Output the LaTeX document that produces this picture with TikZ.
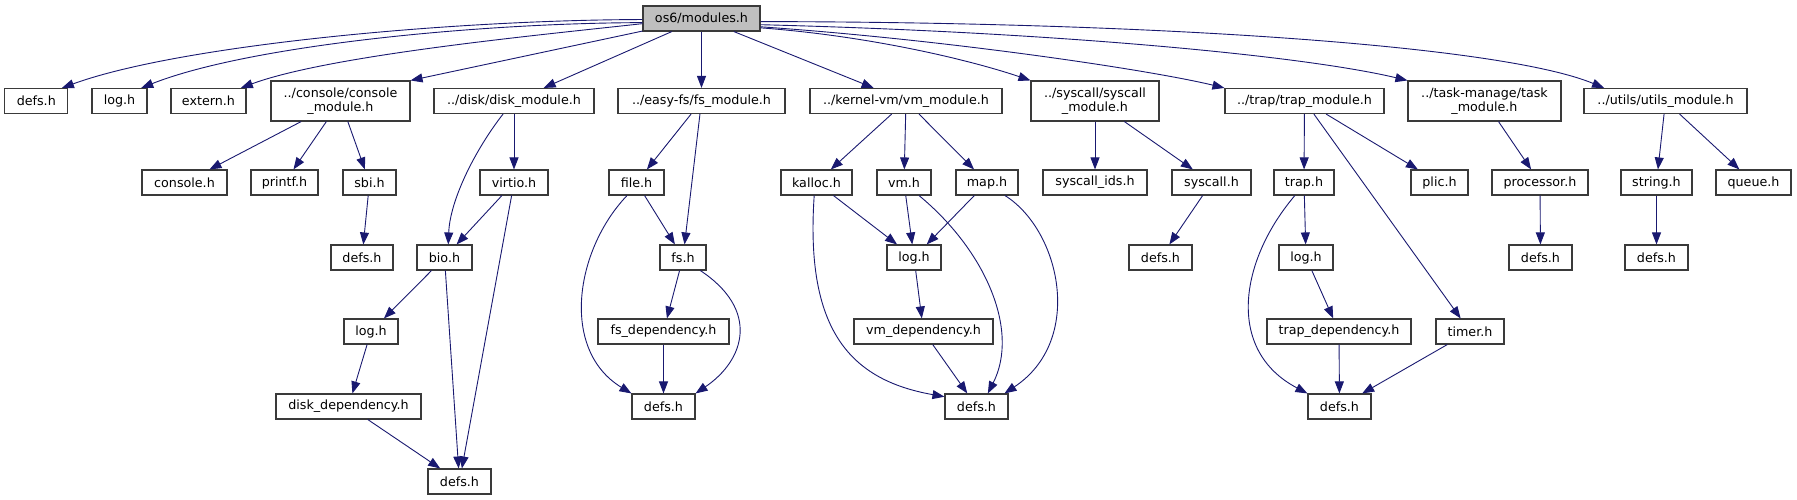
\documentclass[tikz,border=0pt]{standalone}
\usepackage{fontspec}
\setmainfont{DejaVu Sans}
\usepackage{tikz}
\usetikzlibrary{arrows.meta}

\definecolor{edgeblue}{HTML}{191970}
\definecolor{boxline}{HTML}{3A3A3A}
\definecolor{rootfill}{HTML}{BFBFBF}

\begin{document}
\begin{tikzpicture}[x=1pt, y=-1pt,
    file/.style={draw=boxline, line width=1.1pt, fill=white, inner sep=0pt,
      minimum height=25pt, align=center, font=\fontsize{12.7}{13.5}\selectfont},
    twoline/.style={file, minimum height=40pt},
    edge/.style={draw=edgeblue, line width=0.9pt, -{Triangle[length=12pt,width=9pt]}}]
    \useasboundingbox (0,0) rectangle (1797,500);

    % top row
    \node[file, fill=rootfill, minimum width=117pt] (root) at (701.5,18.5) {os6/modules.h};
    \node[file, minimum width=63pt]  (defsA)   at (36.3,101)  {defs.h};
    \node[file, minimum width=55pt]  (logA)    at (119.5,101) {log.h};
    \node[file, minimum width=75pt]  (externh) at (208.5,101) {extern.h};
    \node[twoline, minimum width=139pt] (conmod) at (340.5,101) {../console/console\\\_module.h};
    \node[file, minimum width=160pt] (diskmod) at (514,101)   {../disk/disk\_module.h};
    \node[file, minimum width=167pt] (fsmod)   at (701.5,101) {../easy-fs/fs\_module.h};
    \node[file, minimum width=192pt] (vmmod)   at (906,101)   {../kernel-vm/vm\_module.h};
    \node[twoline, minimum width=128pt] (sysmod) at (1095,101) {../syscall/syscall\\\_module.h};
    \node[file, minimum width=159pt] (trapmod) at (1304.5,101) {../trap/trap\_module.h};
    \node[twoline, minimum width=153pt] (taskmod) at (1484.5,101) {../task-manage/task\\\_module.h};
    \node[file, minimum width=163pt] (utilsmod) at (1665.5,101) {../utils/utils\_module.h};

    % second row
    \node[file, minimum width=85pt]  (conh)    at (184.5,182.5) {console.h};
    \node[file, minimum width=67pt]  (printfh) at (284.5,182.5) {printf.h};
    \node[file, minimum width=53pt]  (sbih)    at (369.5,182.5) {sbi.h};
    \node[file, minimum width=68pt]  (virtioh) at (514,182.5)   {virtio.h};
    \node[file, minimum width=55pt]  (fileh)   at (636.5,182.5) {file.h};
    \node[file, minimum width=71pt]  (kalloch) at (816.5,182.5) {kalloc.h};
    \node[file, minimum width=54pt]  (vmh)     at (904,182.5)   {vm.h};
    \node[file, minimum width=62pt]  (maph)    at (987,182.5)   {map.h};
    \node[file, minimum width=104pt] (sysids)  at (1095,182.5)  {syscall\_ids.h};
    \node[file, minimum width=79pt]  (syscallh) at (1211.5,182.5) {syscall.h};
    \node[file, minimum width=60pt]  (traph)   at (1304,182.5)  {trap.h};
    \node[file, minimum width=57pt]  (plich)   at (1439.5,182.5) {plic.h};
    \node[file, minimum width=96pt]  (proch)   at (1540,182.5)  {processor.h};
    \node[file, minimum width=71pt]  (stringh) at (1656.5,182.5) {string.h};
    \node[file, minimum width=75pt]  (queueh)  at (1753.5,182.5) {queue.h};

    % third row
    \node[file, minimum width=62pt]  (defsB)   at (362,257.5)   {defs.h};
    \node[file, minimum width=55pt]  (bioh)    at (444.5,257.5) {bio.h};
    \node[file, minimum width=46pt]  (fsh)     at (683,257.5)   {fs.h};
    \node[file, minimum width=54pt]  (logB)    at (914,257.5)   {log.h};
    \node[file, minimum width=63pt]  (defsC)   at (1160.5,257.5) {defs.h};
    \node[file, minimum width=54pt]  (logC)    at (1306,257.5)  {log.h};
    \node[file, minimum width=63pt]  (defsD)   at (1540.5,257.5) {defs.h};
    \node[file, minimum width=63pt]  (defsE)   at (1656.5,257.5) {defs.h};

    % fourth row
    \node[file, minimum width=54pt]  (logD)    at (371,331.5)   {log.h};
    \node[file, minimum width=131pt] (fsdep)   at (663.5,331.5) {fs\_dependency.h};
    \node[file, minimum width=139pt] (vmdep)   at (923.5,331.5) {vm\_dependency.h};
    \node[file, minimum width=144pt] (trapdep) at (1339,331.5)  {trap\_dependency.h};
    \node[file, minimum width=68pt]  (timerh)  at (1470,331.5)  {timer.h};

    % fifth and sixth row
    \node[file, minimum width=145pt] (diskdep) at (348.5,406.5) {disk\_dependency.h};
    \node[file, minimum width=63pt]  (defsF)   at (663.5,406.5) {defs.h};
    \node[file, minimum width=63pt]  (defsG)   at (976.5,406.5) {defs.h};
    \node[file, minimum width=63pt]  (defsH)   at (1339.5,406.5) {defs.h};
    \node[file, minimum width=63pt]  (defsI)   at (459.5,481.5) {defs.h};

    % edges from the root
    \draw[edge] (root.181) .. controls (450,20) and (180,45) .. (defsA.27);
    \draw[edge] (root.184) .. controls (480,23) and (250,45) .. (logA.31);
    \draw[edge] (root.185) .. controls (540,35) and (330,55) .. (externh.22);
    \draw[edge] (root) -- (conmod.north east);
    \draw[edge] (root) -- (diskmod);
    \draw[edge] (root) -- (fsmod);
    \draw[edge] (root) -- (vmmod);
    \draw[edge] (root.-9) .. controls (870,36) and (970,60) .. (sysmod.north west);
    \draw[edge] (root.-8) .. controls (950,40) and (1150,70) .. (trapmod.north west);
    \draw[edge] (root.-6) .. controls (1050,32) and (1300,55) .. (taskmod.north west);
    \draw[edge] (root.-3) .. controls (1150,22) and (1500,45) .. (utilsmod.168);

    % console
    \draw[edge] (conmod) -- (conh);
    \draw[edge] (conmod) -- (printfh);
    \draw[edge] (conmod) -- (sbih);
    \draw[edge] (sbih) -- (defsB);

    % disk
    \draw[edge] (diskmod.-130) .. controls (475,150) and (450,200) .. (bioh.74);
    \draw[edge] (diskmod) -- (virtioh);
    \draw[edge] (virtioh) -- (bioh);
    \draw[edge] (virtioh) -- (defsI);
    \draw[edge] (bioh) -- (logD);
    \draw[edge] (bioh) -- (defsI);
    \draw[edge] (logD) -- (diskdep);
    \draw[edge] (diskdep) -- (defsI);

    % easy-fs
    \draw[edge] (fsmod) -- (fileh);
    \draw[edge] (fsmod) -- (fsh);
    \draw[edge] (fileh) -- (fsh);
    \draw[edge] (fileh.-126) .. controls (575,250) and (560,350) .. (defsF.north west);
    \draw[edge] (fsh) -- (fsdep);
    \draw[edge] (fsh.-37) .. controls (760,310) and (745,360) .. (defsF.north east);
    \draw[edge] (fsdep) -- (defsF);

    % kernel-vm
    \draw[edge] (vmmod) -- (kalloch);
    \draw[edge] (vmmod) -- (vmh);
    \draw[edge] (vmmod) -- (maph);
    \draw[edge] (kalloch) -- (logB);
    \draw[edge] (kalloch.-100) .. controls (805,330) and (850,380) .. (defsG.163);
    \draw[edge] (vmh) -- (logB);
    \draw[edge] (vmh.-41) .. controls (985,250) and (1020,330) .. (defsG.49);
    \draw[edge] (maph) -- (logB);
    \draw[edge] (maph.-36) .. controls (1060,230) and (1085,340) .. (defsG.25);
    \draw[edge] (logB) -- (vmdep);
    \draw[edge] (vmdep) -- (defsG);

    % syscall
    \draw[edge] (sysmod) -- (sysids);
    \draw[edge] (sysmod) -- (syscallh);
    \draw[edge] (syscallh) -- (defsC);

    % trap
    \draw[edge] (trapmod) -- (traph);
    \draw[edge] (trapmod) -- (plich);
    \draw[edge] (trapmod) -- (timerh);
    \draw[edge] (traph) -- (logC);
    \draw[edge] (traph.-125) .. controls (1240,260) and (1225,350) .. (defsH.north west);
    \draw[edge] (logC) -- (trapdep);
    \draw[edge] (trapdep) -- (defsH);
    \draw[edge] (timerh) -- (defsH);

    % task-manage and utils
    \draw[edge] (taskmod) -- (proch);
    \draw[edge] (proch) -- (defsD);
    \draw[edge] (utilsmod) -- (stringh);
    \draw[edge] (utilsmod) -- (queueh);
    \draw[edge] (stringh) -- (defsE);
\end{tikzpicture}
\end{document}
